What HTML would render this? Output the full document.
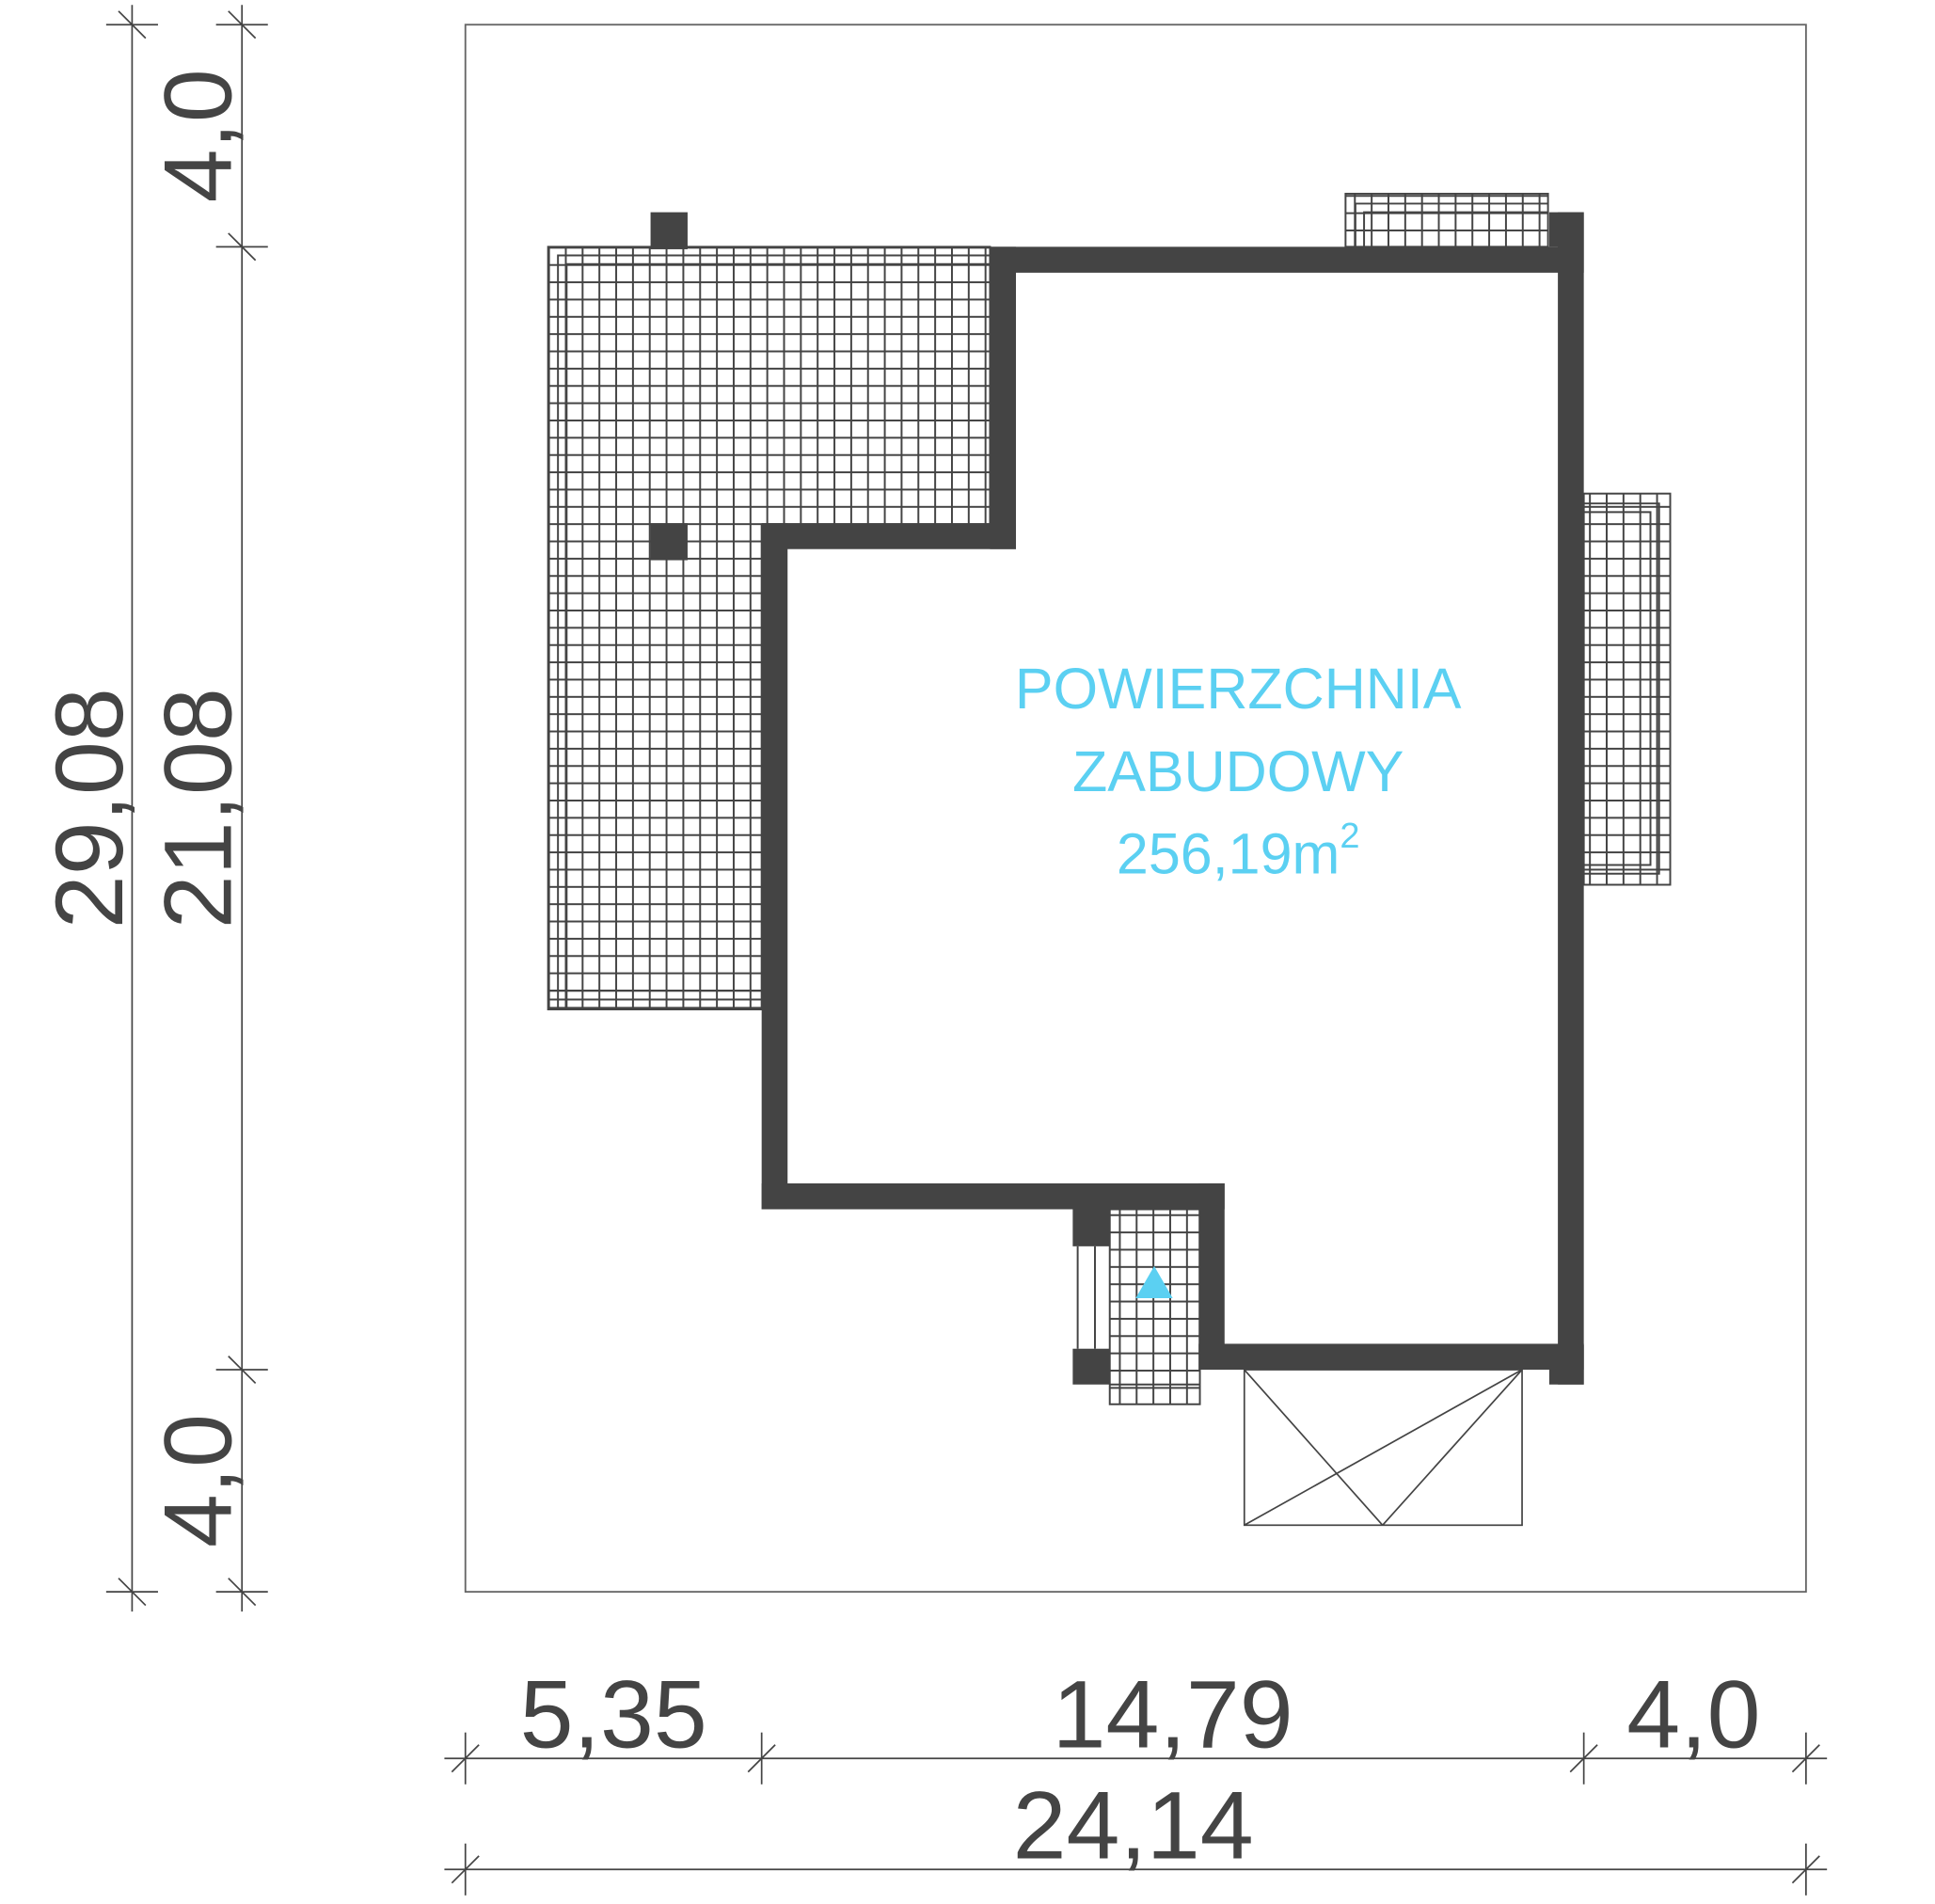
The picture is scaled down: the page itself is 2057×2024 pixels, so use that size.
<!DOCTYPE html>
<html><head><meta charset="utf-8"><style>html,body{margin:0;padding:0;background:#fff}svg{display:block}</style></head>
<body>
<svg width="2057" height="2024" viewBox="0 0 1567.5 1543" xmlns="http://www.w3.org/2000/svg" preserveAspectRatio="none">
<defs>
<pattern id="g" patternUnits="userSpaceOnUse" x="444" y="200" width="13.6" height="14">
<path d="M0.75 0V14M0 0.75H13.6" stroke="#444" stroke-width="1.5" fill="none"/>
</pattern>
</defs>
<g font-family="Liberation Sans, sans-serif" fill="#444">
<rect x="377" y="20" width="1086" height="1270" fill="none" stroke="#666" stroke-width="1.4"/>

<g stroke="#444" stroke-width="1.5">
<polygon points="444,200 802,200 802,425 617,425 617,818 444,818" fill="url(#g)"/>
<polyline points="452,818 452,207 802,207" fill="none"/>
<polyline points="459,818 459,214 802,214" fill="none"/>
<polyline points="444,810 617,810" fill="none"/>
<polyline points="444,803 617,803" fill="none"/>
<rect x="1090" y="157" width="164" height="43" fill="url(#g)"/>
<polyline points="1098,200 1098,165 1254,165" fill="none"/>
<polyline points="1105,200 1105,172 1254,172" fill="none"/>
<rect x="1283" y="400" width="70" height="317" fill="url(#g)"/>
<polyline points="1283,408 1344,408 1344,708 1283,708" fill="none"/>
<polyline points="1283,415 1337,415 1337,701 1283,701" fill="none"/>
<rect x="899" y="980" width="73" height="158" fill="url(#g)"/>
<line x1="899" y1="1122" x2="972" y2="1122"/>
<line x1="873" y1="1010" x2="873" y2="1093"/>
<line x1="887" y1="1010" x2="887" y2="1093"/>
</g>

<g fill="#444">
<rect x="802" y="200" width="481" height="21"/>
<rect x="1262" y="172" width="21" height="950"/>
<rect x="1255" y="172" width="28" height="28"/>
<rect x="1255" y="1090" width="28" height="32"/>
<rect x="802" y="200" width="21" height="245"/>
<rect x="617" y="424" width="206" height="21"/>
<rect x="617" y="424" width="21" height="556"/>
<rect x="617" y="959" width="375" height="21"/>
<rect x="971" y="959" width="21" height="151"/>
<rect x="971" y="1089" width="312" height="21"/>
<rect x="869" y="980" width="30" height="30"/>
<rect x="869" y="1093" width="30" height="29"/>
<rect x="527" y="172" width="30" height="30"/>
<rect x="527" y="424" width="30" height="30"/>
</g>

<g stroke="#444" stroke-width="1.3" fill="none">
<rect x="1008" y="1110" width="225" height="126"/>
<line x1="1008" y1="1110" x2="1120" y2="1236"/>
<line x1="1008" y1="1236" x2="1233" y2="1110"/>
<line x1="1120" y1="1236" x2="1233" y2="1110"/>
</g>
<polygon points="935,1026 920,1052 950,1052" fill="#5bd0f2"/>

<g fill="#5bd0f2" font-size="46.5" text-anchor="middle">
<text x="1003" y="574">POWIERZCHNIA</text>
<text x="1003" y="641">ZABUDOWY</text>
<text x="1003" y="708">256,19m<tspan font-size="29" dy="-21">2</tspan></text>
</g>

<g stroke="#444" stroke-width="1.3">
<line x1="107" y1="4" x2="107" y2="1306"/>
<line x1="196" y1="4" x2="196" y2="1306"/>
<line x1="86" y1="20" x2="128" y2="20"/><line x1="96" y1="9" x2="118" y2="31"/>
<line x1="175" y1="20" x2="217" y2="20"/><line x1="185" y1="9" x2="207" y2="31"/>
<line x1="175" y1="200" x2="217" y2="200"/><line x1="185" y1="189" x2="207" y2="211"/>
<line x1="175" y1="1110" x2="217" y2="1110"/><line x1="185" y1="1099" x2="207" y2="1121"/>
<line x1="86" y1="1290" x2="128" y2="1290"/><line x1="96" y1="1279" x2="118" y2="1301"/>
<line x1="175" y1="1290" x2="217" y2="1290"/><line x1="185" y1="1279" x2="207" y2="1301"/>

<line x1="360" y1="1425" x2="1480" y2="1425"/>
<line x1="360" y1="1515" x2="1480" y2="1515"/>
<line x1="377" y1="1404" x2="377" y2="1446"/><line x1="366" y1="1436" x2="388" y2="1414"/>
<line x1="617" y1="1404" x2="617" y2="1446"/><line x1="606" y1="1436" x2="628" y2="1414"/>
<line x1="1283" y1="1404" x2="1283" y2="1446"/><line x1="1272" y1="1436" x2="1294" y2="1414"/>
<line x1="1463" y1="1404" x2="1463" y2="1446"/><line x1="1452" y1="1436" x2="1474" y2="1414"/>
<line x1="377" y1="1494" x2="377" y2="1536"/><line x1="366" y1="1526" x2="388" y2="1504"/>
<line x1="1463" y1="1494" x2="1463" y2="1536"/><line x1="1452" y1="1526" x2="1474" y2="1504"/>
</g>

<g font-size="78" text-anchor="middle" fill="#444">
<text transform="translate(99,655) rotate(-90)">29,08</text>
<text transform="translate(187,655) rotate(-90)">21,08</text>
<text transform="translate(187,110) rotate(-90)">4,0</text>
<text transform="translate(187,1200) rotate(-90)">4,0</text>
<text x="497" y="1416">5,35</text>
<text x="950" y="1416">14,79</text>
<text x="1372" y="1416">4,0</text>
<text x="918" y="1506">24,14</text>
</g>
</g>
</svg>
</body></html>
